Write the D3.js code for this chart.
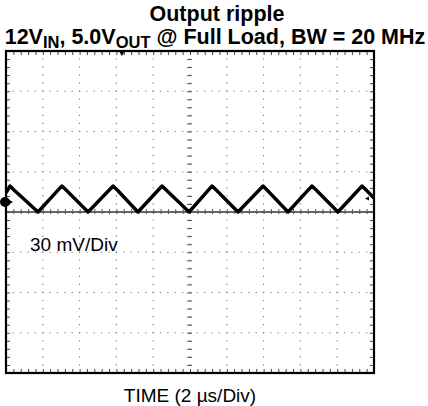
<!DOCTYPE html>
<html>
<head>
<meta charset="utf-8">
<script src="https://cdn.jsdelivr.net/npm/d3@7"></script>
<style>
  body { margin: 0; background: #fff; }
  text { font-family: "Liberation Sans", Arial, sans-serif; fill: #000; }
</style>
</head>
<body>
<div id="content"></div>
<script>
// scope settings: 10 div x 2 us, 8 div x 30 mV
var xDivs = d3.range(0, 11).map(function(d) { return d * 2; });
var yDivs = d3.range(-4, 5).map(function(d) { return d * 30; });

// trace (time in us, level in mV)
var traceTime = [0, 0.22, 0.45, 1.74, 3.04, 3.28, 4.46, 5.82, 6.06, 7.17, 8.48, 8.72, 9.95,
                 11.2, 11.44, 12.61, 13.97, 14.2, 15.33, 16.63, 16.87, 18.04, 19.35, 19.6, 20];
var traceMv   = [14.2, 19.4, 16.2, 0, 19.4, 16.2, 0, 19.4, 16.2, 0, 19.4, 16.2, 0,
                 19.4, 16.2, 0, 19.4, 16.2, 0, 19.4, 16.2, 0, 19.4, 16, 10.4];

var groundMv = 7.5, triggerUs = 6.3, rightMarkMv = 10;

var width = 428, height = 406;
var pLeft = 6, pRight = 374, pTop = 51, pBottom = 373;

var svg = d3.select("#content").append("svg").attr("width", width).attr("height", height);

var x = d3.scaleLinear().domain([0, 20]).range([pLeft, pRight]);
var y = d3.scaleLinear().domain([-120, 120]).range([pBottom, pTop]);

// title
var title = svg.append("g").style("font-weight", "bold").style("font-size", "21.5px");
title.append("text").attr("x", 217).attr("y", 21).attr("text-anchor", "middle").text("Output ripple");
var t2 = title.append("text").attr("x", 215).attr("y", 44).attr("text-anchor", "middle");
t2.append("tspan").text("12V");
t2.append("tspan").attr("dy", 4).style("font-size", "16.5px").text("IN");
t2.append("tspan").attr("dy", -4).text(", 5.0V");
t2.append("tspan").attr("dy", 4).style("font-size", "16.5px").text("OUT");
t2.append("tspan").attr("dy", -4).text(" @ Full Load, BW = 20 MHz");

// dotted graticule
var grid = svg.append("g").attr("stroke", "#777").attr("stroke-width", 1.2);
grid.selectAll("line.v").data(xDivs.slice(1, -1)).enter().append("line")
  .attr("x1", function(d) { return x(d); }).attr("x2", function(d) { return x(d); })
  .attr("y1", pTop).attr("y2", pBottom)
  .attr("stroke-dasharray", "1.2,6.85")
  .attr("stroke-dashoffset", -7.4);
grid.selectAll("line.h").data(yDivs.slice(1, -1).filter(function(d) { return d !== 0; })).enter().append("line")
  .attr("x1", pLeft).attr("x2", pRight)
  .attr("y1", function(d) { return y(d); }).attr("y2", function(d) { return y(d); })
  .attr("stroke-dasharray", "1.2,6.16").attr("stroke-dashoffset", -6.7);

// centre axes with minor ticks
var minorX = d3.range(0, 20.01, 0.4), minorY = d3.range(-120, 120.1, 6);
svg.append("line").attr("x1", pLeft).attr("x2", pRight).attr("y1", y(0)).attr("y2", y(0))
  .attr("stroke", "#333").attr("stroke-width", 1.3);
svg.append("g").attr("transform", "translate(0," + (y(0) + 2) + ")")
  .call(d3.axisTop(x).tickValues(minorX).tickSize(5).tickFormat(""))
  .call(function(g) { g.select(".domain").remove(); g.selectAll("line").attr("stroke", "#555"); });
svg.append("g").attr("transform", "translate(" + (x(10) + 2) + ",0)")
  .call(d3.axisLeft(y).tickValues(minorY).tickSize(5).tickFormat(""))
  .call(function(g) { g.select(".domain").remove(); g.selectAll("line").attr("stroke", "#555"); });

// minor ticks along frame
function edge(g) { g.select(".domain").remove(); g.selectAll("line").attr("stroke", "#444"); }
svg.append("g").attr("transform", "translate(0," + pTop + ")")
  .call(d3.axisBottom(x).tickValues(minorX).tickSize(4).tickFormat("")).call(edge);
svg.append("g").attr("transform", "translate(0," + pBottom + ")")
  .call(d3.axisTop(x).tickValues(minorX).tickSize(4).tickFormat("")).call(edge);
svg.append("g").attr("transform", "translate(" + pLeft + ",0)")
  .call(d3.axisRight(y).tickValues(minorY).tickSize(4).tickFormat("")).call(edge);
svg.append("g").attr("transform", "translate(" + pRight + ",0)")
  .call(d3.axisLeft(y).tickValues(minorY).tickSize(4).tickFormat("")).call(edge);

// trace
svg.append("defs").append("clipPath").attr("id", "clip").append("rect")
  .attr("x", pLeft).attr("y", pTop).attr("width", pRight - pLeft).attr("height", pBottom - pTop);
var line = d3.line().x(function(d) { return x(d[0]); }).y(function(d) { return y(d[1]); });
svg.append("path").datum(d3.zip(traceTime, traceMv))
  .attr("clip-path", "url(#clip)")
  .attr("d", line).attr("fill", "none").attr("stroke", "#000")
  .attr("stroke-width", 3.4).attr("stroke-linejoin", "round");

// frame
svg.append("rect").attr("x", pLeft).attr("y", pTop).attr("width", pRight - pLeft).attr("height", pBottom - pTop)
  .attr("fill", "none").attr("stroke", "#000").attr("stroke-width", 2.2);

// markers
var gy = y(groundMv);
svg.append("circle").attr("cx", 5).attr("cy", gy).attr("r", 5).attr("fill", "#000");
svg.append("path").attr("d", "M5," + (gy - 4.5) + "L13," + gy + "L5," + (gy + 4.5) + "Z").attr("fill", "#000");
var tx = x(triggerUs);
svg.append("path").attr("d", "M" + (tx - 3) + "," + pTop + "L" + (tx + 3) + "," + pTop + "L" + tx + "," + (pTop + 5) + "Z").attr("fill", "#000");
var ry = y(rightMarkMv);
svg.append("path").attr("d", "M" + (pRight - 9) + "," + ry + "L" + (pRight - 5) + "," + (ry - 2) + "L" + (pRight - 5) + "," + (ry + 2) + "Z").attr("fill", "#000");

// labels
svg.append("text").attr("x", 30).attr("y", 251).style("font-size", "19px").text("30 mV/Div");
svg.append("text").attr("x", 190).attr("y", 402).attr("text-anchor", "middle").style("font-size", "19px")
  .text("TIME (2 \u00b5s/Div)");
</script>
</body>
</html>
